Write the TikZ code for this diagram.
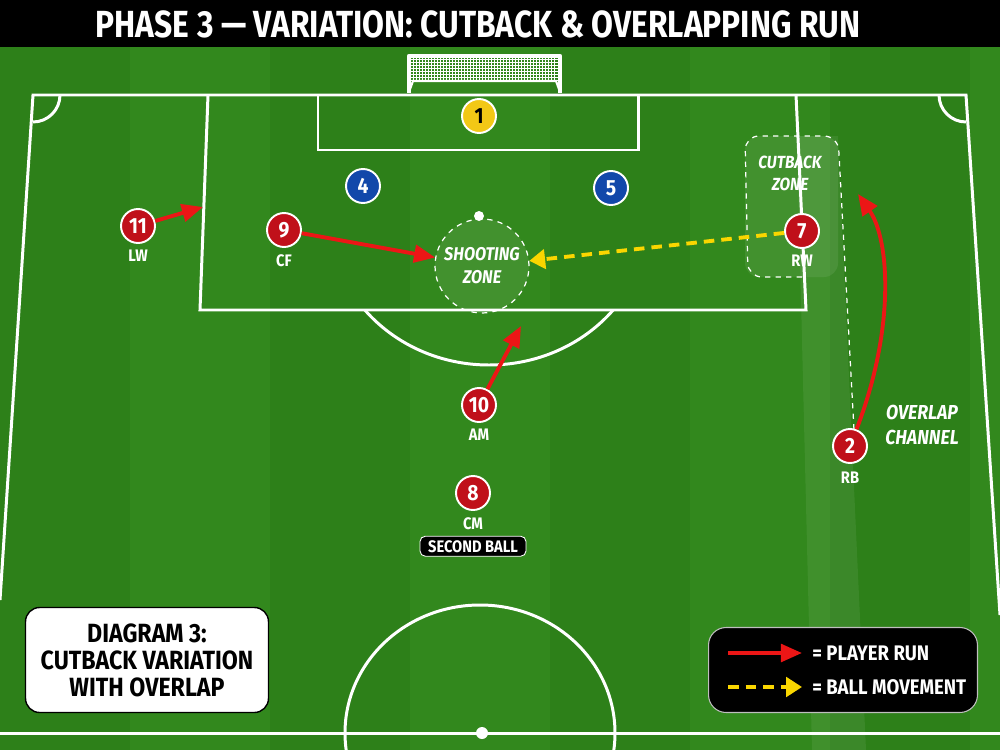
\documentclass[tikz,border=0pt]{standalone}
\usepackage{fontspec}
\setmainfont{Fira Sans}[FakeStretch=0.88]
\newfontfamily\titlefont{Fira Sans}[FakeStretch=0.84]
\usepackage{tikz}
\usetikzlibrary{positioning,arrows.meta,calc}

\definecolor{grassdark}{RGB}{45,128,25}
\definecolor{grasslight}{RGB}{50,136,29}
\definecolor{shirtred}{RGB}{192,16,26}
\definecolor{keeperyellow}{RGB}{242,200,22}
\definecolor{shirtblue}{RGB}{18,72,170}
\definecolor{runred}{RGB}{236,22,22}
\definecolor{ballyellow}{RGB}{250,214,0}

\begin{document}
\begin{tikzpicture}[
	%	style def
    x=0.02cm, y=-0.02cm,
    pitch line/.style={white, line width=1.7pt},
    player/.style={circle, draw=white, line width=1.1pt, fill=shirtred, minimum size=0.68cm, inner sep=0pt, text=white, font=\bfseries\fontsize{12.5}{12.5}\selectfont},
    keeper/.style={player, fill=keeperyellow, text=black},
    defender/.style={player, fill=shirtblue},
    role/.style={text=white, inner sep=0pt, font=\bfseries\fontsize{9.5}{9.5}\selectfont},
    zone text/.style={text=white, align=center, font=\bfseries\itshape\fontsize{10.5}{13}\selectfont},
    player run/.style={runred, line width=2.2pt, -{Triangle[length=12pt,width=10pt]}},
    ball move/.style={ballyellow, line width=2.2pt, dash pattern=on 6pt off 4pt, -{Triangle[length=9pt,width=11pt]}},
    legend text/.style={anchor=west, text=white, inner sep=0pt, font=\bfseries\fontsize{12}{12}\selectfont}
    ]
    \useasboundingbox (0,0) rectangle (1000,750);

    % grass and stripes
    \fill[grassdark] (0,0) rectangle (1000,750);
    \foreach \sx in {130,410,690,970}
        \fill[grasslight] (\sx,47) rectangle (\sx+140,750);

    % title bar
    \fill[black] (0,0) rectangle (1000,47);
    \node[text=white, font=\titlefont\bfseries\fontsize{21.5}{21.5}\selectfont] (title) at (478,24) {PHASE 3 — VARIATION: CUTBACK \& OVERLAPPING RUN};

    % overlap channel and cutback zone
    \fill[white, opacity=0.07] (797,136) -- (838,136) -- (866,750) -- (812,750) -- cycle;
    \fill[white, opacity=0.08, rounded corners=8] (745,136) rectangle (838,277);

    % pitch markings
    \draw[pitch line] (0,600) -- (33,95) -- (966,95) -- (1000,615);
    \draw[pitch line] (60,95) arc[start angle=0, end angle=90, radius=27];
    \draw[pitch line] (939,95) arc[start angle=180, end angle=90, radius=27];
    \draw[pitch line] (208,95) -- (200,310) -- (806,310) -- (796,95);
    \draw[pitch line] (318,95) -- (318,150) -- (638,150) -- (638,95);
    \begin{scope}
        \clip (0,311) rectangle (1000,750);
        \draw[pitch line] (489,216) ellipse [x radius=160, y radius=149];
    \end{scope}
    \fill[white] (479,216) circle (5);
    \draw[pitch line] (0,733) -- (1000,733);
    \draw[pitch line] (480,733) ellipse [x radius=135, y radius=128];
    \fill[white] (482,733) circle (6);

    % goal with net
    \foreach \nx in {413,416,...,556}
        \draw[white, line width=0.3pt] (\nx,57) -- (\nx,81);
    \foreach \ny in {59,62,...,80}
        \draw[white, line width=0.3pt] (411,\ny) -- (558,\ny);
    \draw[white, line width=1.2pt] (409,92) -- (413,81) -- (556,81) -- (560,92);
    \draw[white, line width=2.6pt, line join=round] (409,93) -- (409,56) -- (560,56) -- (560,93);

    % cutback zone outline
    \draw[white, dashed, line width=0.7pt, rounded corners=8] (802,277) -- (748,277) -- (745,136) -- (838,136) -- (854,430);
    \node[zone text, font=\bfseries\itshape\fontsize{10}{12.5}\selectfont] (cutback) at (790,173) {CUTBACK\\ZONE};
    \node[zone text, font=\bfseries\itshape\fontsize{11.5}{14}\selectfont] (overlap) at (922,425) {OVERLAP\\CHANNEL};

    % shooting zone
    \node[circle, draw=white, dashed, line width=0.7pt, fill=white, fill opacity=0.08, text opacity=1, minimum size=1.88cm, inner sep=0pt, zone text] (shot) at (482,266) {SHOOTING\\ZONE};

    % players
    \node[keeper] (gk) at (479,116) {1};
    \node[defender] (cb4) at (363,186) {4};
    \node[defender] (cb5) at (611,188) {5};
    \node[player] (lw) at (138,226) {11};
    \node[player] (cf) at (284,230) {9};
    \node[player] (rw) at (802,231) {7};
    \node[player] (am) at (479,405) {10};
    \node[player] (cm) at (473,493) {8};
    \node[player] (rb) at (850,446) {2};
    \node[role, below=0.12cm of lw] (lwlab) {LW};
    \node[role, below=0.12cm of cf] (cflab) {CF};
    \node[role, below=0.12cm of rw] (rwlab) {RW};
    \node[role, below=0.12cm of am] (amlab) {AM};
    \node[role, below=0.12cm of cm] (cmlab) {CM};
    \node[role, below=0.15cm of rb] (rblab) {RB};
    \node[fill=black, draw=white, line width=0.5pt, rounded corners=3pt, minimum width=2.12cm, minimum height=0.4cm, inner sep=0pt, text=white, font=\bfseries\fontsize{9.5}{9.5}\selectfont, below=0.12cm of cmlab] (second) {SECOND BALL};

    % runs
    \coordinate (lwend) at (203,207);
    \draw[player run] (lw) -- (lwend);
    \draw[player run] (cf) -- (shot);
    \coordinate (amend) at (521,326);
    \draw[player run] (am) -- (amend);
    \coordinate (rbend) at (858,194);
    \draw[player run] (rb) .. controls (895,330) and (890,240) .. (rbend);
    % cutback pass
    \draw[ball move] (rw) -- (shot);

    % diagram caption
    \node[draw=black, line width=0.8pt, fill=white, rounded corners=8pt, minimum width=4.86cm, minimum height=2.1cm, align=center, font=\bfseries\fontsize{15}{15.3}\selectfont] (diag) at (147,660) {DIAGRAM 3:\\CUTBACK VARIATION\\WITH OVERLAP};

    % legend
    \node[fill=black, draw=white!75!black, line width=0.6pt, rounded corners=10pt, minimum width=5.38cm, minimum height=1.7cm] (legend) at (843,670) {};
    \coordinate (legrun0) at (728,653);
    \coordinate (legrun1) at (802,653);
    \coordinate (legball0) at (728,687);
    \coordinate (legball1) at (802,687);
    \draw[player run] (legrun0) -- (legrun1);
    \draw[ball move] (legball0) -- (legball1);
    \node[legend text] (runtxt) at (812,653) {= PLAYER RUN};
    \node[legend text] (balltxt) at (812,687) {= BALL MOVEMENT};
\end{tikzpicture}
\end{document}
